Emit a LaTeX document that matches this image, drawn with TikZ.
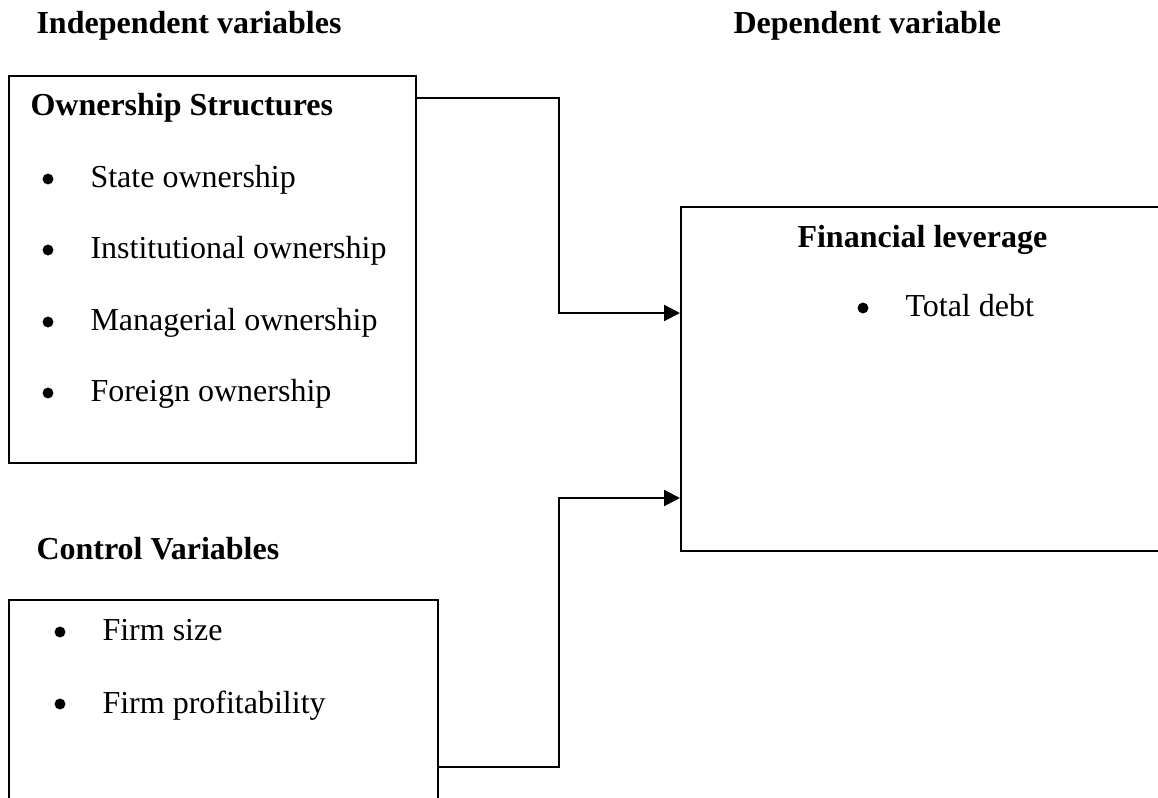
\documentclass[tikz,border=0pt]{standalone}
\usepackage{fontspec}
\setmainfont{Liberation Serif}
\usepackage{tikz}
\usetikzlibrary{positioning}
\usetikzlibrary{arrows.meta}
\usetikzlibrary{fit}
\usetikzlibrary{calc}

\begin{document}
\begin{tikzpicture}[x=0.375pt,y=-0.375pt,font=\fontsize{12}{14}\selectfont,
    box/.style={draw=black,line width=0.6pt,inner sep=0pt},
    heading/.style={anchor=base west,inner sep=0pt,font=\fontsize{12}{14}\selectfont\bfseries},
    entry/.style={anchor=base west,inner sep=0pt},
    dot/.style={circle,fill=black,inner sep=0pt,minimum size=4.1pt},
    link/.style={black,line width=0.8pt,-{Triangle[length=6pt,width=6pt]}}]
      \useasboundingbox (0,0) rectangle (1158,798);
      \clip (0,0) rectangle (1158,798);

      % headings
      \node[heading] (indep) at (36,34) {Independent variables};
      \node[heading] (dep) at (733,34) {Dependent variable};
      \node[heading] (ctrlhead) at (36,559) {Control Variables};

      % boxes
      \node[box, fit={(9,76) (416,463)}] (own) {};
      \node[box, line width=0.75pt, fit={(681,207) (1300,551)}] (lev) {};
      \node[box, fit={(9,600) (438,900)}] (ctrl) {};

      % ownership structures
      \node[heading] (ownhead) at (30,116) {Ownership Structures};
      \node[dot] (d1) at (48,179) {};
      \node[entry] (o1) at (90,188) {State ownership};
      \node[dot] (d2) at (48,250) {};
      \node[entry] (o2) at (90,259) {Institutional ownership};
      \node[dot] (d3) at (48,322) {};
      \node[entry] (o3) at (90,331) {Managerial ownership};
      \node[dot] (d4) at (48,393) {};
      \node[entry] (o4) at (90,402) {Foreign ownership};

      % financial leverage
      \node[heading] (levhead) at (797,248) {Financial leverage};
      \node[dot] (d5) at (863,308) {};
      \node[entry] (l1) at (905,317) {Total debt};

      % control variables
      \node[dot] (d6) at (60,632) {};
      \node[entry] (c1) at (102,641) {Firm size};
      \node[dot] (d7) at (60,704) {};
      \node[entry] (c2) at (102,713) {Firm profitability};

      % connectors
      \coordinate (ownout) at ($(own.north east)+(0,23)$);
      \coordinate (ctrlout) at ($(ctrl.north east)+(0,168)$);
      \coordinate (levin1) at ($(lev.north west)+(0,107)$);
      \coordinate (levin2) at ($(lev.south west)+(0,-54)$);
      \draw[link] (ownout) -- ++(142,0) |- (levin1);
      \draw[link] (ctrlout) -- ++(120,0) |- (levin2);

    \end{tikzpicture}
\end{document}
